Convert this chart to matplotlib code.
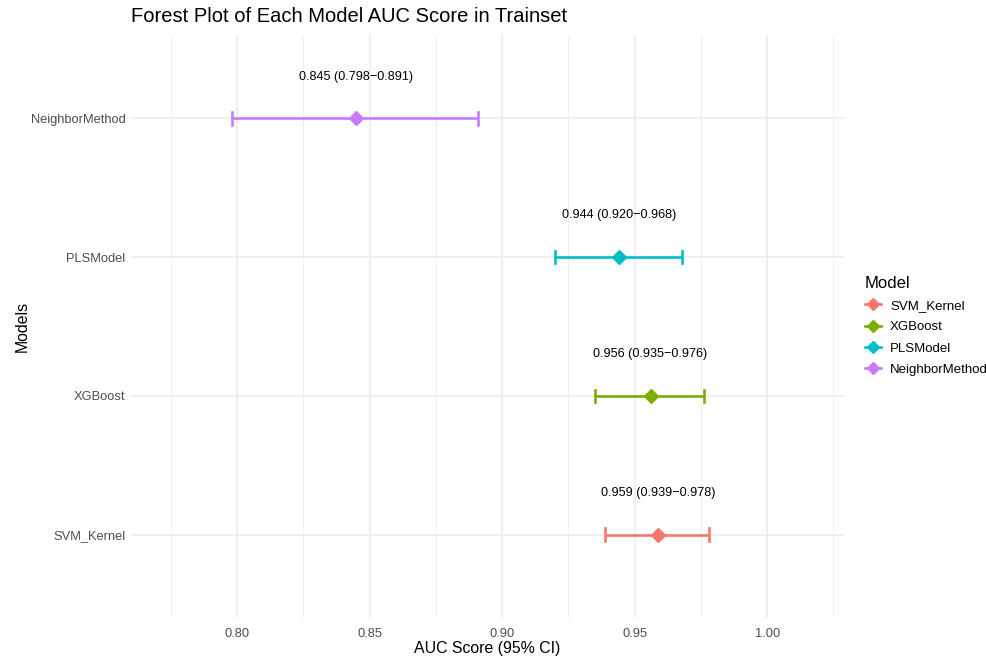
import matplotlib

matplotlib.use("Agg")
import matplotlib.pyplot as plt
from matplotlib.lines import Line2D

# values
models = ["SVM_Kernel", "XGBoost", "PLSModel", "NeighborMethod"]
auc = [0.959, 0.956, 0.944, 0.845]
ci_low = [0.939, 0.935, 0.920, 0.798]
ci_high = [0.978, 0.976, 0.968, 0.891]
colors = ["#F8766D", "#7CAE00", "#00BFC4", "#C77CFF"]
x_ticks = [0.80, 0.85, 0.90, 0.95, 1.00]

plt.rcParams["font.family"] = ["Liberation Sans", "DejaVu Sans"]

fig = plt.figure(figsize=(9.87, 6.62), dpi=100)
left, right, top, bottom = 131, 844, 35, 618
ax = fig.add_axes([left / 987, 1 - bottom / 662, (right - left) / 987, (bottom - top) / 662])

grid = "#EBEBEB"
for x in x_ticks:
    ax.axvline(x, color=grid, lw=1.1, zorder=0)
for x in [0.775, 0.825, 0.875, 0.925, 0.975, 1.025]:
    ax.axvline(x, color=grid, lw=0.55, zorder=0)
for i in range(len(models)):
    ax.axhline(i + 1, color=grid, lw=1.1, zorder=0)

cap = 0.045
for i, (m, est, lo, hi, c) in enumerate(zip(models, auc, ci_low, ci_high, colors)):
    y = i + 1
    ax.plot([lo, hi], [y, y], color=c, lw=1.9, solid_capstyle="butt", zorder=2)
    ax.plot([lo, lo], [y - cap, y + cap], color=c, lw=1.9, zorder=2)
    ax.plot([hi, hi], [y - cap, y + cap], color=c, lw=1.9, zorder=2)
    ax.plot(est, y, marker="D", ms=7, color=c, mec=c, zorder=3)
    ax.text(est, y + 0.3, f"{est:.3f} ({lo:.3f}\u2212{hi:.3f})",
            ha="center", va="center", fontsize=9.1, color="black")

ax.set_xlim(0.760, 1.029)
ax.set_ylim(0.4, 4.6)
ax.set_xticks(x_ticks)
ax.set_xticklabels([f"{x:.2f}" for x in x_ticks])
ax.set_yticks(range(1, len(models) + 1))
ax.set_yticklabels(models)
ax.tick_params(axis="y", length=0, labelsize=9.3, labelcolor="#4D4D4D", pad=4)
ax.tick_params(axis="x", length=0, labelsize=9.3, labelcolor="#4D4D4D", pad=7)
for s in ax.spines.values():
    s.set_visible(False)

ax.set_xlabel("AUC Score (95% CI)", fontsize=11.4, labelpad=1)
ax.set_ylabel("Models", fontsize=11.4, labelpad=1)
fig.text(left / 987, 1 - 17 / 662, "Forest Plot of Each Model AUC Score in Trainset",
         fontsize=14.5, ha="left", va="center")

handles = [Line2D([0], [0], color=c, lw=1.9, marker="D", ms=6) for c in colors]
leg = fig.legend(handles, models, title="Model", loc="upper left",
                 bbox_to_anchor=(853 / 987, 1 - 264 / 662), frameon=False,
                 fontsize=9.5, title_fontsize=12, handlelength=1.2,
                 labelspacing=0.68, handletextpad=0.7)
leg._legend_box.align = "left"

fig.savefig("out.png", dpi=100, facecolor="white")
